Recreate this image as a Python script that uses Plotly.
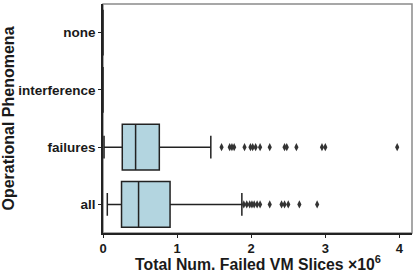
import plotly.graph_objects as go

categories = ["all", "failures", "interference", "none"]
q1 = [0.25, 0.26, 0.0, 0.0]
median = [0.48, 0.44, 0.0, 0.0]
q3 = [0.905, 0.76, 0.0, 0.0]
lowerfence = [0.058, 0.014, 0.0, 0.0]
upperfence = [1.874, 1.455, 0.0, 0.0]

outliers_failures = [1.60, 1.71, 1.74, 1.77, 1.91, 1.99, 2.02, 2.06, 2.12, 2.25,
                     2.45, 2.48, 2.61, 2.955, 3.0, 3.97]
outliers_all = [1.90, 1.94, 1.98, 2.01, 2.04, 2.08, 2.12, 2.25, 2.41, 2.45,
                2.50, 2.65, 2.89]

x_ticks = [0, 1, 2, 3, 4]

fig = go.Figure()
fig.add_trace(go.Box(
    y=categories, q1=q1, median=median, q3=q3,
    lowerfence=lowerfence, upperfence=upperfence,
    orientation="h", width=0.8, whiskerwidth=0.5,
    fillcolor="#b3d5e0", line=dict(color="#222222", width=1.5),
    boxpoints=False, showlegend=False, hoverinfo="skip",
))
out_x = outliers_failures + outliers_all
out_y = ["failures"] * len(outliers_failures) + ["all"] * len(outliers_all)
fig.add_trace(go.Scatter(
    x=out_x, y=out_y, mode="markers",
    marker=dict(symbol="diamond-tall", size=6, color="#333333"),
    showlegend=False, hoverinfo="skip",
))

fig.add_shape(type="rect", xref="paper", yref="paper", x0=0, y0=0, x1=1, y1=1,
              line=dict(color="#8a8a8a", width=1.5), layer="below")

FAM = "Liberation Sans, Arial, sans-serif"
tick_font = dict(family=FAM, size=13.5, color="#1a1a1a", weight="bold")
fig.update_layout(
    width=415, height=274,
    margin=dict(l=103, r=3, t=4, b=41, autoexpand=False),
    paper_bgcolor="white", plot_bgcolor="white",
    font=dict(family=FAM, color="#1a1a1a"),
    xaxis=dict(
        range=[0, 4.17], tickvals=x_ticks, ticktext=[str(v) for v in x_ticks],
        showgrid=False, zeroline=False, showline=True, linecolor="#222222", linewidth=1.5,
        ticks="outside", ticklen=3, tickcolor="#222222",
        tickfont=dict(family=FAM, size=13, color="#1a1a1a", weight="bold"),
        automargin=False,
    ),
    yaxis=dict(
        type="category", categoryorder="array", categoryarray=categories,
        range=[-0.5, 3.5],
        showgrid=False, zeroline=False, showline=True, linecolor="#222222", linewidth=1.5,
        ticks="outside", ticklen=3, tickcolor="#222222", tickfont=tick_font,
        automargin=False,
    ),
    annotations=[
        dict(text="<b>Total Num. Failed VM Slices ×10<sup>6</sup></b>",
             xref="paper", yref="paper", x=0.5, y=0, xanchor="center", yanchor="middle",
             yshift=-30, showarrow=False, font=dict(family=FAM, size=15.8, color="#1a1a1a")),
        dict(text="<b>Operational Phenomena</b>",
             xref="paper", yref="paper", x=0, y=0.5, xanchor="center", yanchor="middle",
             xshift=-95, textangle=-90, showarrow=False,
             font=dict(family=FAM, size=16, color="#1a1a1a")),
    ],
)

fig.write_html("out.html", config={"displayModeBar": False},
               post_script="document.body.style.margin='0';document.body.style.padding='0';")
